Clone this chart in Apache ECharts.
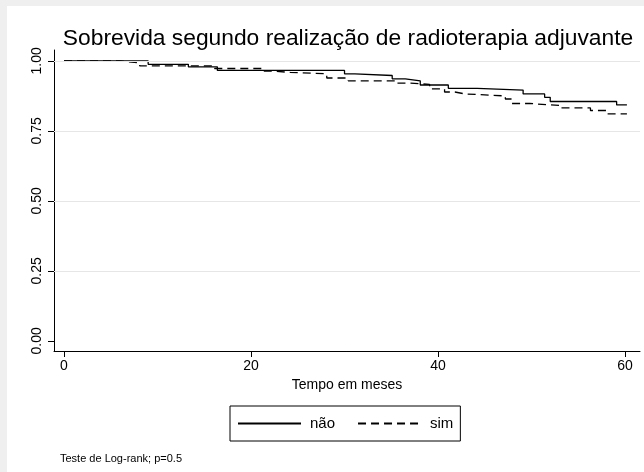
<!DOCTYPE html>
<html><head><meta charset="utf-8">
<script src="https://cdn.jsdelivr.net/npm/echarts@6/dist/echarts.min.js"></script>
<style>html,body{margin:0;padding:0;background:#fff}#c{width:644px;height:472px}</style>
</head><body><div id="c"></div>
<script>
const xTicks = [0, 20, 40, 60];
const yTicks = [0, 0.25, 0.5, 0.75, 1];
const gridVals = [0.25, 0.5, 0.75, 1];
const naoTime = [0, 9, 13.3, 16.4, 30, 31.1, 35.1, 36.5, 38.1, 41.1, 44.2, 49.1, 51.4, 52, 59.1, 60.2];
const naoSurv = [1.0, 0.988, 0.979, 0.966, 0.954, 0.948, 0.936, 0.929, 0.914, 0.902, 0.896, 0.882, 0.870, 0.855, 0.843, 0.843];
const simTime = [0, 6, 8.1, 16.1, 21.2, 22.2, 24.2, 28.1, 30.4, 35.4, 37, 39.1, 40.7, 41.8, 42.9, 47.2, 47.9, 49.8, 53, 56.3, 58.1, 60.2];
const simSurv = [1.0, 0.993, 0.982, 0.973, 0.964, 0.959, 0.954, 0.939, 0.929, 0.921, 0.916, 0.900, 0.889, 0.882, 0.875, 0.864, 0.848, 0.841, 0.832, 0.823, 0.811, 0.811];
const seriesNames = ['não', 'sim'];

const FONT = 'Liberation Sans, Arial, sans-serif';
const chart = echarts.init(document.getElementById('c'), null, {renderer: 'canvas'});
const zip = (a, b) => a.map((v, i) => [v, b[i]]);
chart.setOption({
  animation: false,
  backgroundColor: '#fff',
  title: {
    text: 'Sobrevida segundo realização de radioterapia adjuvante',
    left: 343, textAlign: 'center', top: 22,
    textStyle: {fontFamily: FONT, fontWeight: 'normal', fontSize: 22.8, color: '#000'}
  },
  graphic: [
    {type: 'rect', shape: {x: 0, y: 0, width: 644, height: 6}, style: {fill: '#efefef'}, silent: true},
    {type: 'rect', shape: {x: 0, y: 0, width: 7, height: 472}, style: {fill: '#efefef'}, silent: true},
    {type: 'text', left: 60, top: 453, style: {text: 'Teste de Log-rank; p=0.5', font: '11px ' + FONT, fill: '#000'}}
  ],
  grid: {left: 54, top: 50, right: 4, bottom: 121, containLabel: false},
  xAxis: {
    type: 'value', min: -1.07, max: 61.6,
    name: 'Tempo em meses', nameLocation: 'middle', nameGap: 24,
    nameTextStyle: {fontFamily: FONT, fontSize: 14, color: '#000'},
    axisLine: {onZero: false, lineStyle: {color: '#000', width: 1}},
    axisTick: {show: true, length: 6, lineStyle: {color: '#000'}, customValues: xTicks},
    axisLabel: {customValues: xTicks, fontFamily: FONT, fontSize: 14, color: '#000', margin: 8},
    splitLine: {show: false}
  },
  yAxis: {
    type: 'value', min: -0.036, max: 1.039,
    axisLine: {show: true, onZero: false, lineStyle: {color: '#000', width: 1}},
    axisTick: {show: true, length: 6, lineStyle: {color: '#000'}, customValues: yTicks},
    axisLabel: {customValues: yTicks, rotate: 90, fontFamily: FONT, fontSize: 14, color: '#000', margin: 10,
      formatter: v => v.toFixed(2)},
    splitLine: {show: false}
  },
  legend: {
    data: seriesNames,
    left: 230, top: 406,
    orient: 'horizontal',
    itemWidth: 63, itemHeight: 14, itemGap: 22,
    padding: [10, 7, 10, 7],
    borderColor: '#000', borderWidth: 1,
    itemStyle: {opacity: 0},
    textStyle: {fontFamily: FONT, fontSize: 15, color: '#000', padding: [0, 0, 0, 4]}
  },
  series: [
    {
      name: seriesNames[0], type: 'line', step: 'end', symbol: 'none',
      data: zip(naoTime, naoSurv),
      lineStyle: {color: '#000', width: 1.3, type: 'solid'},
      itemStyle: {color: '#000'},
      markLine: {
        silent: true, symbol: 'none', label: {show: false},
        lineStyle: {color: '#e6e6e6', width: 1, type: 'solid'},
        data: gridVals.map(v => ({yAxis: v}))
      },
      z: 3
    },
    {
      name: seriesNames[1], type: 'line', step: 'end', symbol: 'none',
      data: zip(simTime, simSurv),
      lineStyle: {color: '#000', width: 1.3, type: [8, 5]},
      itemStyle: {color: '#000'},
      z: 3
    }
  ]
});
</script></body></html>
